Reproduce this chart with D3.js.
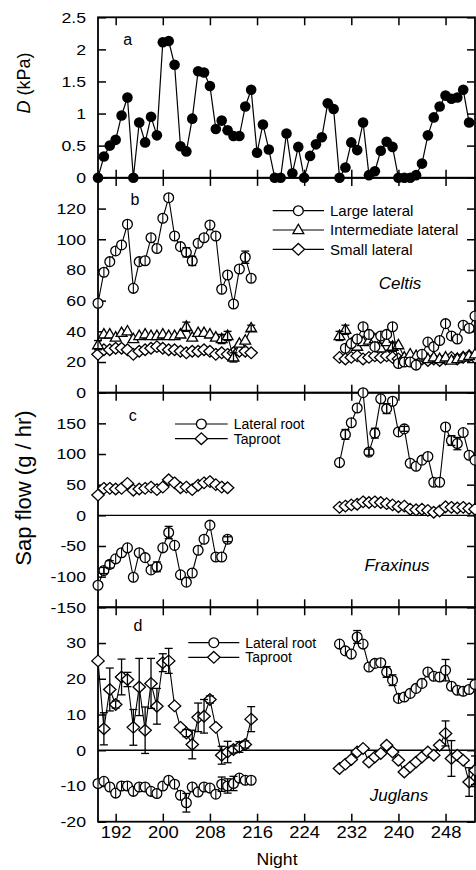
<!DOCTYPE html>
<html>
<head>
<meta charset="utf-8">
<script src="https://cdn.jsdelivr.net/npm/d3@7"></script>
<style>
  body { margin: 0; background: #fff; }
  svg { display: block; font-family: "Liberation Sans", Arial, sans-serif; }
</style>
</head>
<body>
<svg id="chart" width="476" height="870"></svg>
<script>
// tick values
const nightTicks = [192, 200, 208, 216, 224, 232, 240, 248];
const vpdTicks = [0, 0.5, 1, 1.5, 2, 2.5];
const celtisTicks = [0, 20, 40, 60, 80, 100, 120];
const fraxinusTicks = [-150, -100, -50, 0, 50, 100, 150];
const juglansTicks = [-20, -10, 0, 10, 20, 30];

// panel a: vapour pressure deficit, nights 189-252
const vpdStart = 189;
const vpd = [0, 0.33, 0.5, 0.59, 0.97, 1.25, 0, 0.86, 0.55, 0.95, 0.66, 2.11, 2.13, 1.76, 0.49, 0.41,
  0.92, 1.66, 1.64, 1.43, 0.76, 0.89, 0.74, 0.65, 0.65, 1.11, 1.37, 0.39, 0.83, 0.44, 0, 0,
  0.69, 0.07, 0.48, 0, 0.34, 0.52, 0.63, 1.16, 1.07, 0, 0.16, 0.55, 0.43, 0.86, 0.04, 0.1,
  0.42, 0.56, 0.48, 0, 0, 0, 0.04, 0.22, 0.66, 0.94, 1.11, 1.28, 1.23, 1.25, 1.37, 0.86];

// panel b: Celtis (early run starts night 189)
const celtisLargeEarly = [58.3, 78.5, 85.4, 92.4, 96.3, 109.8, 68, 85.4, 86, 101, 94, 113.7, 127.1, 102.1,
  95.2, 91.5, 85.9, 97.4, 101, 109.3, 102.1, 67.4, 76.7, 57.8, 80.6, 88.3, 74.6];
const celtisInterEarly = [31, 38, 38, 36, 39, 40, 35, 37, 38, 37, 37, 38, 37, 37, 38, 43, 36, 39, 39, 38,
  36, 35, 37, 23, 32, 34, 42];
const celtisSmallEarly = [25, 28, 28, 29, 29, 28, 25, 27, 28, 29, 30, 29, 28, 28, 27, 26, 27, 27, 28, 27,
  25, 26, 25, 26, 27, 27, 26];
// late run: large lateral from 231, others from 230
const celtisLargeLate = [29, 32, 35, 43, 38, 30, 37, 38, 43, 19, 20, 20, 18, 25, 33, 30, 34, 45, 37, 35, 44, 42, 50];
const celtisInterLate = [37, 41, 32, 30, 33, 34, 35, 29, 33, 30, 31, 23, 25, 24, 23, 22, 23, 22, 23, 21, 22, 23, 24, 25];
const celtisSmallLate = [23, 22, 23, 24, 22, 23, 24, 23, 24, 23, 22, 22, 23, 21, 22, 21, 22, 21, 22, 23, 22, 23, 24, 23];
const celtisLargeErr = [[204, 3], [205, 3], [214, 4]];
const celtisInterErr = [[189, 3], [204, 3], [210, 3], [211, 3], [212, 3], [215, 2], [230, 3], [231, 3], [239, 3]];

// panel c: Fraxinus (early 189-211, late 230-253)
const fraxLateralEarly = [-114, -90, -80, -71, -61, -53, -101, -61, -69, -89, -84, -53, -28, -49, -97, -109,
  -94, -57, -39, -16, -68, -68, -39];
const fraxTaprootEarly = [33, 44, 44, 43, 44, 52, 41, 43, 44, 46, 42, 46, 58, 53, 45, 46, 42, 49, 53, 55, 50, 46, 45];
const fraxLateralLate = [86, 132, 151, 175, 200, 103, 134, 190, 174, 186, 136, 141, 85, 80, 90, 96, 54, 54,
  144, 122, 117, 135, 98, 90];
const fraxTaprootLate = [13, 15, 17, 18, 22, 21, 22, 21, 19, 17, 14, 15, 10, 9, 10, 8, 5, 7, 14, 13, 12, 13, 11, 10];
const fraxLateralErr = [[190, 5], [191, 6], [199, 8], [201, 10], [211, 4], [231, 8], [235, 5], [236, 8],
  [238, 8], [241, 4], [249, 8], [250, 10]];

// panel d: Juglans (early 189-215, late 230-253)
const juglLateralEarly = [-9.3, -8.7, -10.3, -12, -10, -10, -11.5, -10.3, -10.3, -11.5, -12.1, -10, -8.4, -9.5,
  -12.6, -14.7, -10.3, -11.7, -10.3, -10.6, -12.3, -9.5, -10, -9.3, -7.8, -8.4, -8.4];
const juglTaprootEarly = [25, 6, 17, 12.8, 20.5, 19.8, 6.4, 17.7, 5.6, 18.7, 12.3, 24.5, 25, 12.4, 6.4, 4.8,
  1.6, 9.2, 9.5, 14.2, 6.4, -1.4, -0.5, 0.2, 0.9, 1.6, 8.7];
const juglLateralLate = [29.7, 27.8, 26.9, 31.7, 29.7, 23.3, 24.3, 24.5, 21.9, 19.6, 14.5, 14.9, 15.9, 17.3,
  18.7, 21.9, 20.7, 20.5, 22.4, 17.9, 16.8, 16.5, 17, 18.4];
const juglTaprootLate = [-5.1, -3.9, -2.6, -0.5, 0.5, -3.3, -1.9, -0.9, 1.4, -0.5, -2.8, -6.1, -4.7, -3.3,
  -1.9, -0.5, -1.4, 1.4, 4.7, -2.3, -1.4, -2.8, -8.9, -5.6];
const juglTaprootErr = [[190, 4.5], [191, 6], [192, 1], [193, 5], [194, 2], [195, 5], [196, 8], [197, 6.5],
  [198, 7], [199, 5], [200, 2.5], [201, 3.5], [204, 1], [205, 4], [206, 4], [207, 4.7], [208, 1], [210, 2.5],
  [211, 3], [212, 1], [213, 1.5], [214, 1], [215, 3.5], [248, 3.5], [249, 5], [252, 4], [253, 4]];
const juglLateralErr = [[204, 2.6], [210, 2], [211, 2], [212, 2], [233, 1.8], [238, 1.5], [239, 1.5], [248, 3]];

const svg = d3.select('#chart');
const left = 98, right = 475;
const x = d3.scaleLinear().domain([189, 253]).range([left, right]);

const yA = d3.scaleLinear().domain([0, 2.5]).range([177.7, 17.3]);
const yB = d3.scaleLinear().domain([0, 140]).range([392.7, 177.9]);
const yC = d3.scaleLinear().domain([-150, 200]).range([607.3, 392.7]);
const yD = d3.scaleLinear().domain([-20, 40]).range([821.7, 607.3]);

const TICK_SX = 1.18;
const R = 4.9;

function stretchText(g, tx, ty, str, size, anchor, sx) {
  return g.append('text')
    .attr('transform', `translate(${tx},${ty}) scale(${sx},1)`)
    .attr('text-anchor', anchor)
    .attr('font-size', size)
    .attr('fill', '#000')
    .text(str);
}

function drawFrame(y, labels) {
  const g = svg.append('g');
  const [y0, y1] = y.range();

  // left axis with labels, inward ticks
  const la = g.append('g').attr('transform', `translate(${left},0)`)
    .call(d3.axisLeft(y).tickValues(labels).tickSize(-8).tickPadding(12).tickFormat(d => String(d)));
  la.select('.domain').remove();
  la.selectAll('line').attr('stroke-width', 1.5);
  la.selectAll('text')
    .attr('font-size', 15)
    .attr('font-family', '"Liberation Sans", Arial, sans-serif')
    .attr('x', -12 / TICK_SX)
    .attr('transform', `scale(${TICK_SX},1)`);

  // right ticks
  const ra = g.append('g').attr('transform', `translate(${right},0)`)
    .call(d3.axisRight(y).tickValues(labels).tickSize(-8).tickFormat(''));
  ra.select('.domain').remove();
  ra.selectAll('line').attr('stroke-width', 1.5);

  // top and bottom ticks
  const ta = g.append('g').attr('transform', `translate(0,${y1})`)
    .call(d3.axisTop(x).tickValues(nightTicks).tickSize(-8).tickFormat(''));
  ta.select('.domain').remove();
  ta.selectAll('line').attr('stroke-width', 1.5);
  const ba = g.append('g').attr('transform', `translate(0,${y0})`)
    .call(d3.axisBottom(x).tickValues(nightTicks).tickSize(-8).tickFormat(''));
  ba.select('.domain').remove();
  ba.selectAll('line').attr('stroke-width', 1.5);

  g.append('rect')
    .attr('x', left).attr('y', y1)
    .attr('width', right - left).attr('height', y0 - y1)
    .attr('fill', 'none').attr('stroke', '#000').attr('stroke-width', 1.8);
  return g;
}

const TRI = 'M0,-5.8L5.4,3.6L-5.4,3.6Z';
const DIA = 'M0,-5.8L6.2,0L0,5.8L-6.2,0Z';

function marker(g, shape, cx, cy, withBar) {
  if (shape === 'dot') {
    g.append('circle').attr('cx', cx).attr('cy', cy).attr('r', 5.3).attr('fill', '#000');
  } else if (shape === 'circle') {
    g.append('circle').attr('cx', cx).attr('cy', cy).attr('r', R)
      .attr('fill', '#fff').attr('stroke', '#000').attr('stroke-width', 1.3);
    // error bar line crossing each circle
    if (withBar) {
      g.append('line').attr('x1', cx).attr('x2', cx).attr('y1', cy - R).attr('y2', cy + R)
        .attr('stroke', '#000').attr('stroke-width', 1.1);
    }
  } else {
    g.append('path').attr('d', shape === 'tri' ? TRI : DIA)
      .attr('transform', `translate(${cx},${cy})`)
      .attr('fill', '#fff').attr('stroke', '#000').attr('stroke-width', 1.3);
  }
}

function drawSeries(y, start, values, shape) {
  const g = svg.append('g');
  const line = d3.line().x((v, i) => x(start + i)).y(v => y(v));
  g.append('path').datum(values).attr('d', line)
    .attr('fill', 'none').attr('stroke', '#000').attr('stroke-width', shape === 'dot' ? 1.2 : 1.1);
  values.forEach((v, i) => marker(g, shape, x(start + i), y(v), true));
  return g;
}

function drawErrors(y, runs, errs) {
  const g = svg.append('g').attr('stroke', '#000').attr('stroke-width', 1.3);
  errs.forEach(([n, e]) => {
    let v = null;
    runs.forEach(([start, values]) => {
      if (n >= start && n < start + values.length) v = values[n - start];
    });
    if (v === null) return;
    const cx = x(n);
    const yt = y(v + e), yb = y(v - e);
    g.append('line').attr('x1', cx).attr('x2', cx).attr('y1', yt).attr('y2', yb);
    g.append('line').attr('x1', cx - 4).attr('x2', cx + 4).attr('y1', yt).attr('y2', yt);
    g.append('line').attr('x1', cx - 4).attr('x2', cx + 4).attr('y1', yb).attr('y2', yb);
  });
}

function legendRow(lx0, lx1, ly, shape, text, size) {
  const g = svg.append('g');
  g.append('line').attr('x1', lx0).attr('x2', lx1).attr('y1', ly).attr('y2', ly)
    .attr('stroke', '#000').attr('stroke-width', 1.2);
  marker(g, shape, (lx0 + lx1) / 2, ly, false);
  g.append('text').attr('x', lx1 + 6).attr('y', ly + size * 0.35)
    .attr('font-size', size).text(text);
}

// frames
drawFrame(yA, vpdTicks);
drawFrame(yB, celtisTicks);
drawFrame(yC, fraxinusTicks);
drawFrame(yD, juglansTicks);

// zero lines
[yC, yD].forEach(y => {
  svg.append('line').attr('x1', left).attr('x2', right).attr('y1', y(0)).attr('y2', y(0))
    .attr('stroke', '#000').attr('stroke-width', 1.3);
});

// bottom x labels
const xa = svg.append('g').attr('transform', `translate(0,${yD.range()[0]})`)
  .call(d3.axisBottom(x).tickValues(nightTicks).tickSize(0).tickPadding(5).tickFormat(d => String(d)));
xa.select('.domain').remove();
xa.selectAll('text')
  .attr('font-size', 16)
  .attr('font-family', '"Liberation Sans", Arial, sans-serif')
  .attr('transform', 'scale(1.15,1)');

// panel a
drawSeries(yA, vpdStart, vpd, 'dot');

// panel b
drawSeries(yB, 189, celtisSmallEarly, 'dia');
drawSeries(yB, 230, celtisSmallLate, 'dia');
drawSeries(yB, 189, celtisInterEarly, 'tri');
drawSeries(yB, 230, celtisInterLate, 'tri');
drawSeries(yB, 189, celtisLargeEarly, 'circle');
drawSeries(yB, 231, celtisLargeLate, 'circle');
drawErrors(yB, [[189, celtisInterEarly], [230, celtisInterLate]], celtisInterErr);
drawErrors(yB, [[189, celtisLargeEarly], [231, celtisLargeLate]], celtisLargeErr);

// panel c
drawSeries(yC, 189, fraxTaprootEarly, 'dia');
drawSeries(yC, 230, fraxTaprootLate, 'dia');
drawSeries(yC, 189, fraxLateralEarly, 'circle');
drawSeries(yC, 230, fraxLateralLate, 'circle');
drawErrors(yC, [[189, fraxLateralEarly], [230, fraxLateralLate]], fraxLateralErr);

// panel d
drawSeries(yD, 189, juglTaprootEarly, 'dia');
drawSeries(yD, 230, juglTaprootLate, 'dia');
drawSeries(yD, 189, juglLateralEarly, 'circle');
drawSeries(yD, 230, juglLateralLate, 'circle');
drawErrors(yD, [[189, juglTaprootEarly], [230, juglTaprootLate]], juglTaprootErr);
drawErrors(yD, [[189, juglLateralEarly], [230, juglLateralLate]], juglLateralErr);

// legends
legendRow(272.7, 324, 210.7, 'circle', 'Large lateral', 15);
legendRow(272.7, 324, 230, 'tri', 'Intermediate lateral', 15);
legendRow(272.7, 324, 249.3, 'dia', 'Small lateral', 15);
legendRow(175, 227.7, 424, 'circle', 'Lateral root', 14);
legendRow(175, 227.7, 438.7, 'dia', 'Taproot', 14);
legendRow(188.3, 239.3, 642.7, 'circle', 'Lateral root', 14);
legendRow(188.3, 239.3, 657.3, 'dia', 'Taproot', 14);

// panel letters
[['a', 127.7, 45], ['b', 135, 205], ['c', 132.7, 420.5], ['d', 138, 631]].forEach(([t, tx, ty]) => {
  svg.append('text').attr('x', tx).attr('y', ty).attr('text-anchor', 'middle')
    .attr('font-size', 16).text(t);
});

// species names
[['Celtis', 400, 289], ['Fraxinus', 397, 570.5], ['Juglans', 399, 801]].forEach(([t, tx, ty]) => {
  svg.append('text').attr('x', tx).attr('y', ty).attr('text-anchor', 'middle')
    .attr('font-size', 17).attr('font-style', 'italic').text(t);
});

// axis titles
const yt1 = svg.append('text').attr('transform', 'translate(30,83) rotate(-90)')
  .attr('text-anchor', 'middle').attr('font-size', 18);
yt1.append('tspan').attr('font-style', 'italic').text('D');
yt1.append('tspan').text(' (kPa)');

svg.append('text').attr('transform', 'translate(31,488) rotate(-90)')
  .attr('text-anchor', 'middle').attr('font-size', 22).text('Sap flow (g / hr)');

stretchText(svg, 277, 865, 'Night', 16, 'middle', 1.1);
</script>
</body>
</html>
